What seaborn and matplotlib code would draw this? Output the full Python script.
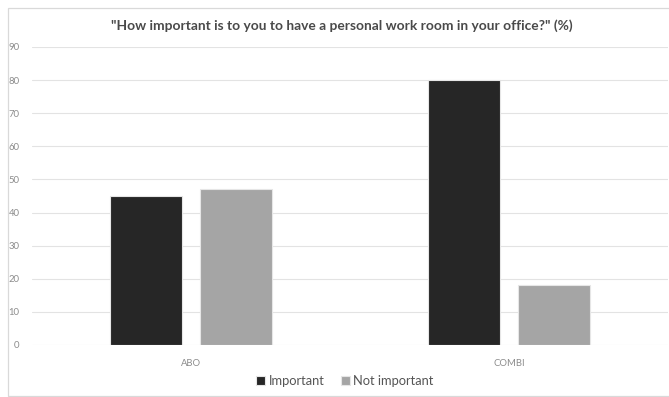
import matplotlib
matplotlib.use("Agg")
import matplotlib.pyplot as plt
import seaborn as sns
import pandas as pd
from matplotlib.patches import Rectangle

# Survey answers (%) per office type
categories = ["ABO", "COMBI"]
important = [45, 80]
not_important = [47, 18]
series_names = ["Important", "Not important"]
title = '"How important is to you to have a personal work room in your office?" (%)'

df = pd.DataFrame({
    "office": categories * 2,
    "answer": [series_names[0]] * 2 + [series_names[1]] * 2,
    "value": important + not_important,
})

sns.set_theme(style="white")
plt.rcParams["font.family"] = ["Lato", "DejaVu Sans"]

W, H = 669, 397
fig = plt.figure(figsize=(W / 100, H / 100), dpi=100)
fig.patch.set_facecolor("white")

# light frame around the chart
fig.add_artist(Rectangle((7.5 / W, 1.5 / H), 1.0, (H - 9) / H,
                         transform=fig.transFigure, fill=False,
                         edgecolor="#d9d9d9", linewidth=0.9))

ax = fig.add_axes([32 / W, 52 / H, (668 - 32) / W, (345 - 47) / H])

sns.barplot(data=df, x="office", y="value", hue="answer",
            palette=["#262626", "#a5a5a5"], width=0.566, gap=0.21,
            edgecolor="#e6e6e6", linewidth=0.8, saturation=1,
            ax=ax, legend=True, zorder=3)

ax.set_xlim(-0.5, 1.5)
ax.set_ylim(0, 90)
ax.set_yticks(range(0, 91, 10))
ax.yaxis.grid(True, color="#e3e3e3", linewidth=0.8, zorder=0)
ax.set_axisbelow(True)
for s in ax.spines.values():
    s.set_visible(False)
ax.set_xlabel("")
ax.set_ylabel("")
ax.tick_params(axis="both", length=0, labelsize=6.8, colors="#8c8c8c")
ax.tick_params(axis="x", pad=10)
ax.tick_params(axis="y", pad=9)

fig.text(342 / W, 1 - 26 / H, title, ha="center", va="center",
         fontsize=9.9, color="#4a4a4a", fontweight="bold")

handles, labels = ax.get_legend_handles_labels()
ax.legend_.remove()
fig.legend(handles, labels, loc="center", bbox_to_anchor=(345 / W, 1 - 381 / H),
           ncol=2, frameon=False, fontsize=9.3, handlelength=0.7, handleheight=0.7,
           handletextpad=0.3, columnspacing=1.2, labelcolor="#555555")

fig.savefig("out.png", dpi=100, facecolor="white")
